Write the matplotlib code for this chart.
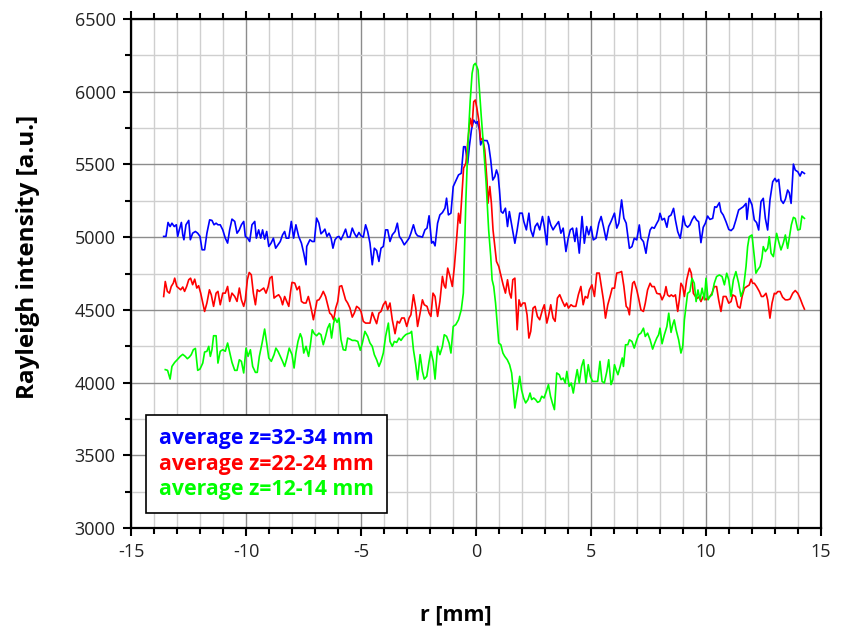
import matplotlib
matplotlib.use("Agg")
import matplotlib.pyplot as plt
from matplotlib.ticker import MultipleLocator

# ---------------- data ----------------
r_blue = [-13.58, -13.48, -13.39, -13.30, -13.22, -13.12, -13.03, -12.97, -12.90, -12.81, -12.75, -12.70,
          -12.61, -12.49, -12.42, -12.32, -12.20, -12.10, -12.00, -11.91, -11.80, -11.70, -11.58, -11.48,
          -11.39, -11.30, -11.22, -11.12, -11.01, -10.90, -10.80, -10.71, -10.61, -10.49, -10.39, -10.29,
          -10.20, -10.10, -10.03, -9.93, -9.84, -9.74, -9.62, -9.55, -9.45, -9.36, -9.28, -9.19, -9.10,
          -9.01, -8.91, -8.81, -8.71, -8.61, -8.51, -8.41, -8.32, -8.25, -8.14, -8.03, -7.93, -7.83,
          -7.71, -7.59, -7.49, -7.39,
          -7.36, -7.29, -7.22, -7.12, -7.03, -6.93, -6.83, -6.74, -6.64, -6.57, -6.48, -6.39, -6.30,
          -6.22, -6.13, -6.04, -5.96, -5.87, -5.77, -5.67, -5.58, -5.48, -5.38, -5.29, -5.19, -5.09,
          -5.00, -4.90, -4.80, -4.71, -4.61, -4.51, -4.42, -4.32, -4.22, -4.13, -4.03, -3.93, -3.84,
          -3.74, -3.64, -3.52, -3.42, -3.33, -3.23, -3.12, -3.01, -2.91, -2.83, -2.72, -2.62, -2.54,
          -2.43, -2.33, -2.22, -2.13, -2.04, -1.93, -1.86, -1.78, -1.67, -1.57, -1.46, -1.35, -1.28,
          -1.20, -1.09, -0.99,
          -0.76, -0.64, -0.54, -0.47, -0.36, -0.29, -0.20, -0.10, 0.00, 0.06, 0.15, 0.20, 0.29, 0.38,
          0.48, 0.55, 0.64, 0.73, 0.82, 0.89, 0.96, 1.02, 1.09, 1.17, 1.28, 1.37, 1.45, 1.55, 1.62,
          1.69, 1.79, 1.90, 2.01, 2.08, 2.19, 2.30, 2.38, 2.48, 2.57, 2.67, 2.77, 2.89, 2.97, 3.08,
          3.15, 3.25, 3.35, 3.44, 3.59, 3.69, 3.79, 3.91, 4.01, 4.10, 4.20, 4.30, 4.37, 4.49, 4.61,
          4.71, 4.81, 4.90, 5.00, 5.10, 5.22, 5.34, 5.44, 5.54, 5.66, 5.77, 5.87, 6.02, 6.12, 6.21,
          6.33, 6.43, 6.53,
          6.67, 6.78, 6.88, 6.99, 7.10, 7.17, 7.28, 7.39, 7.46, 7.57, 7.65, 7.75, 7.86, 7.94, 8.00,
          8.09, 8.19, 8.30, 8.38, 8.48, 8.59, 8.67, 8.77, 8.88, 8.96, 9.01, 9.10, 9.20, 9.30, 9.39,
          9.49, 9.59, 9.68, 9.78, 9.88, 9.97, 10.07, 10.17, 10.29, 10.38, 10.46, 10.58, 10.65, 10.75,
          10.87, 10.99, 11.09, 11.19, 11.30, 11.42, 11.52, 11.62, 11.74, 11.78, 11.88, 12.00, 12.10,
          12.20, 12.29, 12.39, 12.49, 12.58, 12.68, 12.78, 12.90, 13.00, 13.07, 13.16, 13.26, 13.36,
          13.45, 13.55, 13.62, 13.70, 13.80, 13.88, 13.99, 14.09, 14.17, 14.28]
v_blue = [5005, 5005, 5101, 5073, 5096, 5073, 5085, 5005, 5050, 5101, 5016, 4982,
          5085, 5115, 4982, 5027, 5039, 5027, 5005, 4913, 4913, 5027, 5119, 5115,
          5085, 5096, 5085, 5085, 5050, 4993, 4959, 5050, 5124, 5108, 5027, 5050,
          5085, 5108, 5005, 4993, 4970, 5085, 5108, 4993, 5050, 4993, 5050, 4986, 5039,
          4936, 4959, 4993, 4924, 4947, 4970, 5016, 5039, 4993, 4993, 5108, 4993, 5085,
          5005, 4959, 4890, 4810,
          4936, 4959, 4982, 4970, 4970, 5131, 5096, 5023, 5039, 5055, 5005, 5027, 4993,
          4924, 4982, 5000, 5005, 4982, 5016, 5055, 5000, 5000, 5062, 5027, 5000, 5032,
          5009, 5000, 5085, 5039, 4959, 4810, 4924, 4908, 4833, 4924, 4936, 5050, 5050,
          4970, 5016, 5039, 5096, 5005, 4982, 4947, 4970, 4993, 5027, 5085, 5027, 5009,
          5005, 5000, 5050, 5062, 5147, 4959, 4970, 4940, 5096, 5153, 5169, 5199, 5268,
          5153, 5165, 5348,
          5428, 5439, 5622, 5622, 5508, 5622, 5737, 5805, 5783, 5794, 5737, 5634, 5668, 5664,
          5664, 5634, 5531, 5393, 5416, 5462, 5428, 5325, 5176, 5165, 5199, 5073, 5176, 5084, 5016,
          4958, 5050, 5165, 5165, 5107, 5050, 5165, 5050, 5004, 5073, 5096, 5050, 5142, 5073, 4947,
          5142, 5084, 5050, 5073, 5107, 5027, 5062, 4901, 4993, 5050, 5062, 4970, 5062, 4890, 5142,
          4958, 5073, 5016, 5073, 4981, 4993, 5096, 5142, 5073, 4981, 5073, 5107, 5165, 5062, 5096,
          5256, 5130, 5096,
          4923, 4935, 4992, 4981, 5084, 4992, 4969, 4889, 4969, 5049, 5068, 5061, 5095, 5118, 5164,
          5118, 5129, 5068, 5141, 5152, 5198, 5118, 5038, 4992, 5072, 5145, 5084, 5068, 5084, 5118,
          5145, 5118, 5106, 4962, 5068, 5095, 5145, 5122, 5129, 5209, 5205, 5237, 5175, 5152,
          5106, 5053, 5045, 5061, 5118, 5187, 5198, 5209, 5232, 5122, 5267, 5221, 5118,
          5100, 5049, 5244, 5267, 5129, 5049, 5255, 5381, 5404, 5381, 5397, 5255, 5232,
          5260, 5324, 5306, 5232, 5502, 5461, 5450, 5420, 5450, 5438]

r_red = [-13.58, -13.51, -13.42, -13.33, -13.25, -13.16, -13.10, -13.01, -12.93, -12.84, -12.75, -12.67,
         -12.58, -12.49, -12.41, -12.32, -12.23, -12.14, -12.06, -11.97, -11.88, -11.80, -11.70, -11.59,
         -11.51, -11.41, -11.30, -11.22, -11.12, -11.01, -10.90, -10.80, -10.71, -10.61, -10.49, -10.39,
         -10.29, -10.20, -10.10, -10.03, -9.94, -9.86, -9.77, -9.68, -9.59, -9.51, -9.42, -9.33, -9.23,
         -9.13, -9.04, -8.96, -8.87, -8.78, -8.70, -8.58, -8.49, -8.41, -8.32, -8.23, -8.14, -8.06,
         -8.00, -7.88, -7.78, -7.68, -7.59, -7.49, -7.39,
         -7.29, -7.22, -7.14, -7.07, -7.00, -6.91, -6.83, -6.74, -6.64, -6.54, -6.45, -6.36, -6.28,
         -6.19, -6.10, -6.01, -5.93, -5.84, -5.75, -5.67, -5.58, -5.48, -5.38, -5.29, -5.19, -5.09,
         -5.00, -4.90, -4.80, -4.71, -4.61, -4.51, -4.42, -4.32, -4.22, -4.13, -4.03, -3.93, -3.84,
         -3.74, -3.64, -3.52, -3.42, -3.33, -3.23, -3.12, -3.01, -2.91, -2.83, -2.72, -2.62, -2.54,
         -2.43, -2.33, -2.25, -2.13, -2.04, -1.96, -1.87, -1.78, -1.67, -1.57, -1.46, -1.38, -1.32,
         -1.23, -1.13, -1.03, -0.94, -0.84,
         -0.76, -0.69, -0.61, -0.54, -0.44, -0.35, -0.25, -0.17, -0.10, -0.03, 0.04, 0.12, 0.20,
         0.29, 0.38, 0.48, 0.52, 0.60, 0.67, 0.74, 0.82, 0.89, 0.99, 1.09, 1.18, 1.28, 1.37, 1.46,
         1.53, 1.60, 1.69, 1.79, 1.87, 1.95, 2.04, 2.13, 2.22, 2.30, 2.38, 2.48, 2.57, 2.67, 2.77,
         2.89, 2.97, 3.08, 3.15, 3.25, 3.35, 3.44, 3.54, 3.64, 3.76, 3.86, 3.94, 4.02, 4.13, 4.23,
         4.34, 4.45, 4.56, 4.66, 4.75, 4.85, 4.93, 5.04, 5.15, 5.25, 5.36, 5.44, 5.54, 5.63, 5.73,
         5.83, 5.92, 6.02, 6.12, 6.24, 6.33, 6.43, 6.53, 6.60,
         6.67, 6.74, 6.81, 6.88, 6.99, 7.07, 7.17, 7.28, 7.36, 7.46, 7.57, 7.65, 7.75, 7.86, 7.94,
         8.00, 8.09, 8.19, 8.26, 8.33, 8.41, 8.49, 8.58, 8.67, 8.77, 8.84, 8.91, 8.99, 9.06, 9.16,
         9.28, 9.36, 9.45, 9.54, 9.64, 9.71, 9.78, 9.88, 10.00, 10.09, 10.17, 10.26, 10.36, 10.46,
         10.55, 10.65, 10.75, 10.87, 10.99, 11.09, 11.16, 11.28, 11.38, 11.48, 11.57, 11.67, 11.77,
         11.88, 11.96, 12.03, 12.10, 12.20, 12.32, 12.41, 12.49, 12.61, 12.68, 12.78, 12.87, 12.97,
         13.04, 13.12, 13.22, 13.33, 13.45, 13.55, 13.65, 13.77, 13.88, 13.99, 14.09, 14.20, 14.28]
v_red = [4592, 4695, 4627, 4615, 4661, 4684, 4718, 4661, 4650, 4638, 4657, 4627,
         4661, 4707, 4718, 4673, 4711, 4650, 4666, 4615, 4547, 4489, 4547, 4638,
         4604, 4524, 4615, 4627, 4535, 4615, 4615, 4661, 4558, 4615, 4592, 4558,
         4650, 4569, 4524, 4569, 4707, 4757, 4741, 4615, 4535, 4638, 4627, 4638, 4650,
         4615, 4657, 4718, 4730, 4581, 4592, 4604, 4581, 4535, 4592, 4558, 4524, 4627,
         4689, 4684, 4638, 4661, 4558, 4547, 4547,
         4592, 4547, 4489, 4432, 4489, 4565, 4569, 4592, 4627, 4592, 4535, 4478, 4466,
         4432, 4512, 4558, 4661, 4666, 4615, 4569, 4547, 4512, 4450, 4478, 4524, 4512,
         4489, 4421, 4409, 4409, 4409, 4482, 4444, 4405, 4478, 4489, 4535, 4558, 4501,
         4547, 4432, 4336, 4421, 4409, 4444, 4444, 4386, 4444, 4466, 4604, 4512, 4386,
         4478, 4569, 4535, 4524, 4478, 4455, 4615, 4592, 4455, 4558, 4730, 4666, 4650,
         4787, 4730, 4661, 4798, 4993,
         5164, 5096, 5302, 5474, 5508, 5668, 5817, 5760, 5931, 5943, 5886, 5805, 5668,
         5680, 5599, 5382, 5233, 5348, 5233, 5050, 4936, 4833, 4798, 4730, 4672, 4615, 4707, 4615,
         4581, 4707, 4718, 4363, 4569, 4524, 4547, 4547, 4466, 4306, 4352, 4512, 4524, 4455, 4432,
         4501, 4535, 4409, 4455, 4535, 4444, 4421, 4581, 4604, 4558, 4524, 4547, 4512, 4535, 4524,
         4524, 4604, 4661, 4535, 4592, 4581, 4638, 4672, 4592, 4753, 4753, 4672, 4569, 4443, 4535,
         4592, 4649, 4649, 4753, 4757, 4764, 4661, 4524, 4512,
         4466, 4592, 4683, 4695, 4637, 4580, 4500, 4489, 4546, 4637, 4683, 4660, 4660, 4614, 4610,
         4610, 4569, 4603, 4660, 4603, 4592, 4603, 4592, 4603, 4489, 4569, 4683, 4660, 4592, 4706,
         4786, 4752, 4614, 4592, 4580, 4592, 4557, 4592, 4569, 4580, 4592, 4614, 4660, 4660,
         4569, 4489, 4592, 4592, 4546, 4557, 4603, 4592, 4523, 4512, 4592, 4649, 4660,
         4671, 4711, 4683, 4683, 4660, 4626, 4592, 4592, 4614, 4569, 4443, 4546, 4614,
         4610, 4626, 4626, 4587, 4569, 4569, 4574, 4614, 4633, 4614, 4580, 4534, 4505]

r_green = [-13.51, -13.41, -13.30, -13.22, -13.10, -12.99, -12.86, -12.75, -12.64, -12.55, -12.46, -12.38,
           -12.29, -12.20, -12.10, -12.00, -11.88, -11.80, -11.70, -11.62, -11.55, -11.48, -11.41, -11.30,
           -11.22, -11.12, -11.01, -10.90, -10.80, -10.71, -10.61, -10.49, -10.39, -10.29, -10.20, -10.10,
           -10.00, -9.91, -9.81, -9.71, -9.59, -9.51, -9.42, -9.30, -9.19, -9.10, -9.01, -8.90, -8.78,
           -8.70, -8.61, -8.51, -8.41, -8.32, -8.22, -8.12, -8.00, -7.91, -7.83, -7.74, -7.64, -7.57,
           -7.49, -7.39, -7.28,
           -7.20, -7.12, -7.03, -6.93, -6.83, -6.74, -6.64, -6.54, -6.45, -6.36, -6.28, -6.19, -6.13,
           -6.04, -5.96, -5.87, -5.77, -5.67, -5.58, -5.48, -5.38, -5.26, -5.14, -5.03, -4.94, -4.83,
           -4.71, -4.61, -4.51, -4.42, -4.32, -4.22, -4.13, -4.03, -3.93, -3.81, -3.74, -3.64, -3.55,
           -3.45, -3.35, -3.26, -3.16, -3.06, -2.97, -2.87, -2.80, -2.72, -2.62, -2.54, -2.43, -2.33,
           -2.25, -2.14, -2.04, -1.96, -1.86, -1.78, -1.67, -1.57, -1.46, -1.38, -1.28, -1.17, -1.09,
           -0.99, -0.88,
           -0.76, -0.64, -0.55, -0.50, -0.44, -0.35, -0.25, -0.17, -0.10, -0.03, 0.04, 0.09, 0.15,
           0.23, 0.34, 0.44, 0.55, 0.64, 0.70, 0.77, 0.85, 0.92, 0.99, 1.08, 1.17, 1.25, 1.36, 1.46,
           1.55, 1.62, 1.69, 1.79, 1.90, 1.98, 2.07, 2.16, 2.26, 2.35, 2.42, 2.51, 2.59, 2.68, 2.77,
           2.86, 2.96, 3.06, 3.15, 3.24, 3.32, 3.41, 3.51, 3.62, 3.70, 3.79, 3.88, 3.95, 4.05, 4.14,
           4.23, 4.31, 4.40, 4.49, 4.59, 4.68, 4.78, 4.88, 4.97, 5.07, 5.19, 5.29, 5.39, 5.48, 5.58,
           5.69, 5.77, 5.87, 5.95, 6.02, 6.09, 6.17, 6.27, 6.36, 6.41, 6.50, 6.60,
           6.67, 6.78, 6.88, 6.99, 7.07, 7.17, 7.28, 7.36, 7.46, 7.57, 7.68, 7.77, 7.86, 7.94, 8.00,
           8.09, 8.19, 8.30, 8.38, 8.48, 8.55, 8.62, 8.70, 8.81, 8.91, 8.99, 9.06, 9.13, 9.20, 9.30,
           9.39, 9.49, 9.57, 9.65, 9.74, 9.83, 9.93, 10.00, 10.09, 10.17, 10.26, 10.36, 10.46, 10.58,
           10.70, 10.80, 10.90, 10.99, 11.09, 11.19, 11.30, 11.42, 11.52, 11.62, 11.74, 11.81, 11.88,
           12.00, 12.10, 12.17, 12.25, 12.35, 12.43, 12.49, 12.58, 12.68, 12.75, 12.83, 12.93, 13.01,
           13.07, 13.16, 13.26, 13.36, 13.45, 13.55, 13.62, 13.71, 13.80, 13.88, 13.99, 14.09, 14.17,
           14.28]
v_green = [4089, 4084, 4024, 4111, 4139, 4157, 4180, 4194, 4180, 4164, 4176, 4192,
           4226, 4235, 4084, 4093, 4134, 4210, 4215, 4249, 4180, 4226, 4322, 4322,
           4134, 4215, 4226, 4215, 4272, 4208, 4139, 4084, 4084, 4157, 4146, 4066,
           4237, 4180, 4226, 4111, 4070, 4070, 4180, 4272, 4368, 4272, 4169, 4146, 4192,
           4237, 4215, 4180, 4146, 4111, 4169, 4237, 4192, 4100, 4203, 4283, 4336, 4306,
           4203, 4249, 4180,
           4260, 4363, 4336, 4322, 4340, 4329, 4260, 4318, 4375, 4405, 4306, 4409, 4443,
           4414, 4443, 4295, 4226, 4222, 4306, 4299, 4290, 4290, 4283, 4222, 4272, 4352,
           4318, 4272, 4249, 4192, 4157, 4111, 4146, 4203, 4318, 4409, 4283, 4249, 4283,
           4276, 4306, 4290, 4313, 4329, 4336, 4340, 4352, 4226, 4123, 4020, 4192, 4077,
           4024, 4043, 4146, 4215, 4146, 4024, 4249, 4192, 4249, 4329, 4318, 4272, 4203,
           4386, 4398,
           4432, 4501, 4615, 4913, 5256, 5645, 5943, 6126, 6183, 6195, 6172, 6149, 6011,
           5828, 5599, 5371, 5050, 4867, 4707, 4661, 4547, 4409, 4272, 4260, 4203, 4180, 4157, 4123,
           4066, 3951, 3825, 3928, 4043, 3951, 3894, 3860, 3883, 3928, 3883, 3894, 3883, 3864, 3871,
           3906, 3894, 3940, 3986, 3906, 3860, 3814, 4066, 4054, 4020, 4031, 3997, 4077, 3974, 3997,
           3928, 4008, 4089, 3997, 4111, 4157, 3997, 4123, 4043, 4008, 4008, 4008, 4146, 4008, 3997,
           4077, 4157, 3986, 4020, 4123, 4089, 4054, 4111, 4169, 4111, 4260, 4260,
           4294, 4283, 4237, 4294, 4329, 4340, 4374, 4317, 4340, 4294, 4230, 4271, 4306, 4329, 4374,
           4267, 4329, 4386, 4477, 4345, 4397, 4431, 4363, 4294, 4203, 4249, 4431, 4523, 4614, 4626,
           4717, 4683, 4557, 4637, 4569, 4649, 4569, 4717, 4569, 4592, 4603, 4683, 4729, 4740,
           4729, 4672, 4752, 4706, 4592, 4706, 4763, 4683, 4592, 4637, 4798, 4935, 5003,
           5015, 4866, 4752, 4775, 4798, 4855, 4935, 4901, 4923, 5003, 4889, 4866, 4958,
           5026, 4969, 4912, 4958, 5015, 4923, 4992, 5084, 5136, 5129, 5049, 5054, 5145,
           5129]

labels = ["average z=32-34 mm", "average z=22-24 mm", "average z=12-14 mm"]
colors = ["#0000ff", "#ff0000", "#00ff00"]

x_label = "r [mm]"
y_label = "Rayleigh intensity [a.u.]"

# ---------------- figure ----------------
plt.rcParams['font.family'] = ['Open Sans', 'DejaVu Sans']
plt.rcParams['axes.unicode_minus'] = False

fig = plt.figure(figsize=(8.41, 6.29), dpi=100)
ax = fig.add_axes([131/841, 1 - 528/629, (821 - 131)/841, (528 - 19)/629])

series = [(r_blue, v_blue), (r_red, v_red), (r_green, v_green)]
handles = []
for (rx, vy), c, lab in zip(series, colors, labels):
    h, = ax.plot(rx, vy, color=c, lw=1.2, label=lab, zorder=3)
    handles.append(h)

ax.set_xlim(-15, 15)
ax.set_ylim(3000, 6500)
ax.xaxis.set_major_locator(MultipleLocator(5))
ax.xaxis.set_minor_locator(MultipleLocator(1))
ax.yaxis.set_major_locator(MultipleLocator(500))
ax.yaxis.set_minor_locator(MultipleLocator(250))

ax.grid(which='minor', color='#cfcfcf', lw=1.0, zorder=0)
ax.grid(which='major', color='#8c8c8c', lw=1.0, zorder=0)
ax.set_axisbelow(True)

for s in ax.spines.values():
    s.set_linewidth(1.6)
    s.set_color('black')

ax.tick_params(which='both', direction='out', width=1.5, colors='black',
               top=True, right=False, labelsize=13, labelcolor='#222222')
ax.tick_params(which='major', length=6, pad=5)
ax.tick_params(which='minor', length=4)

ax.set_xlabel(x_label, fontsize=15.5, fontweight='bold')
ax.set_ylabel(y_label, fontsize=17.5, fontweight='bold')
ax.xaxis.set_label_coords((456 - 131) / 690, (528 - 604) / 509)
ax.yaxis.set_label_coords((40 - 131) / 690, (528 - 257) / 509)

leg = ax.legend(handles=handles, loc='lower left', bbox_to_anchor=(15/690, 15/509),
                handlelength=0, handletextpad=0, frameon=True, fancybox=False,
                edgecolor='black', framealpha=1, borderpad=0.6, labelspacing=0.22,
                borderaxespad=0, prop={'size': 15.3, 'weight': 'bold'})
leg.get_frame().set_linewidth(1.2)
for t, c in zip(leg.get_texts(), colors):
    t.set_color(c)
for h in leg.legend_handles:
    h.set_visible(False)

fig.savefig("out.png", dpi=100)
